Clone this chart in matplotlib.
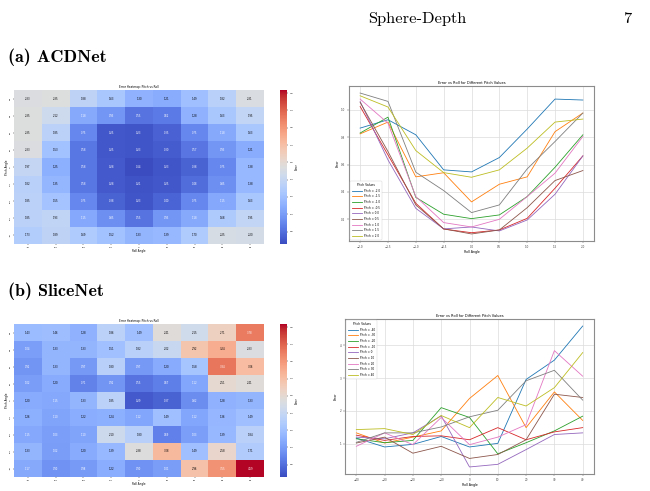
import numpy as np
import matplotlib
matplotlib.use("Agg")
import matplotlib.pyplot as plt

# ---------------- data ----------------
angle_labels = [-40, -30, -20, -10, 0, 10, 20, 30, 40]
pitch_rows = [40, 30, 20, 10, 0, -10, -20, -30, -40]

# (a) ACDNet heatmap, rows top->bottom (pitch 40 .. -40), cols roll -40..40
heat_a = [
    [2.33, 2.35, 1.88, 1.63, 1.30, 1.21, 1.49, 1.82, 2.31],
    [2.35, 2.12, 1.18, 0.93, 0.55, 0.62, 1.28, 1.63, 1.95],
    [2.35, 1.85, 0.75, 0.25, 0.23, 0.35, 0.75, 1.18, 1.63],
    [2.33, 1.53, 0.58, 0.25, 0.23, 0.30, 0.57, 0.93, 1.21],
    [1.97, 1.25, 0.58, 0.28, 0.14, 0.23, 0.38, 0.75, 1.38],
    [1.82, 1.35, 0.58, 0.28, 0.21, 0.25, 0.48, 0.85, 1.38],
    [1.85, 1.55, 0.75, 0.38, 0.23, 0.40, 0.75, 1.15, 1.63],
    [1.85, 1.93, 1.15, 0.85, 0.55, 0.93, 1.18, 1.68, 1.95],
    [1.73, 1.89, 1.69, 1.52, 1.33, 1.39, 1.70, 2.25, 2.20],
]

# (a) ACDNet line chart
roll_a = [-2.0, -1.5, -1.0, -0.5, 0.0, 0.5, 1.0, 1.5, 2.0]
pitch_a = [-2.0, -1.5, -1.0, -0.5, 0.0, 0.5, 1.0, 1.5, 2.0]
err_a = [
    [0.866, 0.927, 0.817, 0.561, 0.546, 0.651, 0.859, 1.078, 1.071],
    [0.824, 0.910, 0.510, 0.540, 0.327, 0.456, 0.510, 0.840, 0.976],
    [0.830, 0.946, 0.360, 0.237, 0.205, 0.232, 0.366, 0.580, 0.817],
    [1.024, 0.670, 0.317, 0.129, 0.102, 0.122, 0.207, 0.427, 0.663],
    [1.060, 0.634, 0.280, 0.130, 0.144, 0.115, 0.195, 0.383, 0.663],
    [1.054, 0.695, 0.305, 0.130, 0.093, 0.122, 0.285, 0.483, 0.556],
    [1.078, 0.902, 0.366, 0.176, 0.144, 0.200, 0.366, 0.537, 0.805],
    [1.122, 1.061, 0.544, 0.410, 0.249, 0.305, 0.568, 0.768, 0.976],
    [1.102, 1.020, 0.702, 0.541, 0.507, 0.561, 0.720, 0.910, 0.932],
]

# (b) SliceNet line chart (pitch -40 .. 40), same values fill the heatmap
roll_b = [-40, -30, -20, -10, 0, 10, 20, 30, 40]
pitch_b = [-40, -30, -20, -10, 0, 10, 20, 30, 40]
err_b = [
    [1.17, 0.90, 0.98, 1.22, 0.90, 1.01, 2.96, 3.55, 4.59],
    [1.33, 1.02, 1.20, 1.39, 2.38, 3.08, 1.49, 2.58, 1.71],
    [1.15, 1.03, 1.10, 2.10, 1.80, 0.69, 1.03, 1.39, 1.84],
    [1.26, 1.10, 1.22, 1.24, 1.12, 1.49, 1.12, 1.36, 1.49],
    [1.20, 1.15, 1.33, 1.85, 0.29, 0.37, 0.82, 1.28, 1.33],
    [1.02, 1.20, 0.71, 0.92, 0.55, 0.67, 1.12, 2.51, 2.41],
    [0.92, 1.33, 0.97, 1.80, 0.97, 1.20, 1.58, 3.84, 3.06],
    [1.04, 1.33, 1.33, 1.51, 1.82, 2.02, 2.92, 3.24, 2.33],
    [1.43, 1.46, 1.28, 1.86, 1.49, 2.41, 2.15, 2.71, 3.78],
]
heat_b = np.array(err_b)[::-1]

cbar_ticks = [0.5, 1.0, 1.5, 2.0, 2.5, 3.0, 3.5, 4.0, 4.5]

# ---------------- figure ----------------
W, H = 650, 491
fig = plt.figure(figsize=(W / 100, H / 100), dpi=100)
fig.patch.set_facecolor("white")


def box(x0, y0, x1, y1):
    return [x0 / W, 1 - y1 / H, (x1 - x0) / W, (y1 - y0) / H]


vmin = min(np.min(heat_a), np.min(heat_b))
vmax = max(np.max(heat_a), np.max(heat_b))
cmap = plt.get_cmap("coolwarm")
norm = matplotlib.colors.Normalize(vmin=vmin, vmax=vmax)

TICK_FS = 1.7
LAB_FS = 2.0


def lum(c):
    rgb = []
    for v in c[:3]:
        rgb.append(v / 12.92 if v <= 0.03928 else ((v + 0.055) / 1.055) ** 2.4)
    return 0.2126 * rgb[0] + 0.7152 * rgb[1] + 0.0722 * rgb[2]


def heatmap(ax_box, cax_box, data):
    data = np.asarray(data)
    ax = fig.add_axes(box(*ax_box))
    cax = fig.add_axes(box(*cax_box))
    m = ax.pcolormesh(data, cmap=cmap, norm=norm)
    ax.set_xlim(0, data.shape[1])
    ax.set_ylim(data.shape[0], 0)
    for i in range(data.shape[0]):
        for j in range(data.shape[1]):
            c = cmap(norm(data[i, j]))
            tc = "black" if lum(c) > 0.408 else "white"
            ax.text(j + 0.5, i + 0.5, f"{data[i, j]:.2f}", ha="center",
                    va="center", fontsize=1.8, color=tc)
    ax.set_xticks(np.arange(9) + 0.5)
    ax.set_xticklabels([str(a) for a in angle_labels])
    ax.set_yticks(np.arange(9) + 0.5)
    ax.set_yticklabels([str(p) for p in pitch_rows], rotation=90, va="center")
    ax.tick_params(labelsize=TICK_FS, length=1, width=0.3, pad=1)
    for s in ax.spines.values():
        s.set_visible(False)
    ax.set_xlabel("Roll Angle", fontsize=LAB_FS, labelpad=1)
    ax.set_ylabel("Pitch Angle", fontsize=LAB_FS, labelpad=1)
    ax.set_title("Error Heatmap: Pitch vs Roll", fontsize=2.1, pad=1.5)
    cb = fig.colorbar(m, cax=cax)
    cb.outline.set_linewidth(0)
    cb.set_ticks(cbar_ticks)
    cb.ax.tick_params(labelsize=TICK_FS, length=1, width=0.3, pad=1)
    cb.set_label("Error", fontsize=LAB_FS, labelpad=1)


def linechart(ax_box, xs, pitches, errs, ticks, yticks, leg_loc, fmt):
    ax = fig.add_axes(box(*ax_box))
    for p, row in zip(pitches, errs):
        ax.plot(xs, row, lw=0.6, label=f"Pitch = {fmt(p)}")
    ax.set_xticks(ticks)
    ax.set_xticklabels([fmt(t).replace("-", "\u2212") for t in ticks])
    ax.set_yticks(yticks)
    ax.grid(True, color="#dcdcdc", lw=0.5)
    ax.set_axisbelow(True)
    for s in ax.spines.values():
        s.set_color("#8c8c8c")
        s.set_linewidth(0.8)
    ax.tick_params(labelsize=2.0, length=1.2, width=0.3, pad=1.5,
                   colors="#444444")
    ax.set_xlabel("Roll Angle", fontsize=2.3, labelpad=1)
    ax.set_ylabel("Error", fontsize=2.3, labelpad=1)
    ax.set_title("Error vs Roll for Different Pitch Values", fontsize=2.6,
                 pad=1.5)
    leg = ax.legend(loc=leg_loc, title="Pitch Values", fontsize=2.0,
                    title_fontsize=2.2, handlelength=3.5, borderpad=0.6,
                    labelspacing=0.6, frameon=True, framealpha=0.9)
    leg.get_frame().set_linewidth(0.3)
    return ax


heatmap((14, 90, 264, 244), (280, 90, 287, 244), heat_a)
heatmap((14, 324, 264, 477), (280, 324, 287, 477), heat_b)

la = linechart((349, 86, 594, 241), roll_a, pitch_a, err_a, roll_a,
               [0.2, 0.4, 0.6, 0.8, 1.0], "lower left", lambda v: f"{v:.1f}")
lb = linechart((345, 319, 594, 474), roll_b, pitch_b, err_b, roll_b,
               [1, 2, 3, 4], "upper left", lambda v: f"{v:d}")

# page text
fig.text(368 / W, 1 - 23 / H, "Sphere-Depth", fontfamily="cmr10",
         fontsize=11.8, ha="left", va="baseline")
fig.text(623 / W, 1 - 23 / H, "7", fontfamily="cmr10", fontsize=11.8,
         ha="left", va="baseline")
fig.text(8 / W, 1 - 62 / H, "(a) ACDNet", fontfamily="cmb10", fontsize=13,
         ha="left", va="baseline")
fig.text(8 / W, 1 - 296 / H, "(b) SliceNet", fontfamily="cmb10", fontsize=13,
         ha="left", va="baseline")

fig.savefig("out.png", dpi=100, facecolor="white")
